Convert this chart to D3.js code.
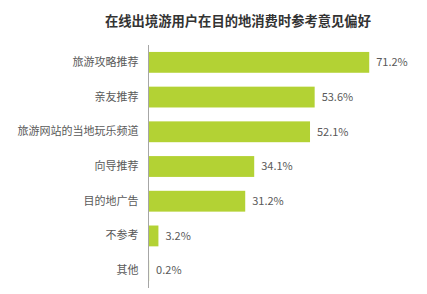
<!DOCTYPE html>
<html>
<head>
<meta charset="utf-8">
<script src="https://cdn.jsdelivr.net/npm/d3@7"></script>
<style>
  body { margin: 0; background: #fff; }
  svg text { font-family: "Noto Sans CJK SC", "Noto Sans", sans-serif; }
</style>
</head>
<body>
<div id="chart"></div>
<script>
// data
const categories = ["旅游攻略推荐", "亲友推荐", "旅游网站的当地玩乐频道", "向导推荐", "目的地广告", "不参考", "其他"];
const values = [71.2, 53.6, 52.1, 34.1, 31.2, 3.2, 0.2];
const title = "在线出境游用户在目的地消费时参考意见偏好";

const width = 427, height = 294;
const x0 = 148.5, yTop = 45, yBottom = 288;

const svg = d3.select("#chart").append("svg")
    .attr("width", width)
    .attr("height", height);

svg.append("text")
    .attr("x", 238)
    .attr("y", 26)
    .attr("text-anchor", "middle")
    .style("font-size", "13.3px")
    .style("font-weight", "bold")
    .attr("fill", "#333")
    .text(title);

const xScale = d3.scaleLinear().domain([0, 80]).range([x0, x0 + 248]);
const yScale = d3.scaleBand().domain(categories).range([yTop, yBottom]).paddingInner(0.4).paddingOuter(0.2);

const data = categories.map((c, i) => ({ cat: c, val: values[i] }));

// bars
svg.selectAll("rect.bar")
    .data(data)
    .enter()
    .append("rect")
    .attr("class", "bar")
    .attr("x", xScale(0))
    .attr("y", d => yScale(d.cat))
    .attr("width", d => xScale(d.val) - xScale(0))
    .attr("height", yScale.bandwidth())
    .attr("fill", "#b3d234");

// value labels
svg.selectAll("text.val")
    .data(data)
    .enter()
    .append("text")
    .attr("class", "val")
    .attr("x", d => xScale(d.val) + 7)
    .attr("y", d => yScale(d.cat) + yScale.bandwidth() / 2)
    .attr("dy", "0.35em")
    .style("font-size", "11px")
    .attr("fill", "#595959")
    .text(d => d.val.toFixed(1) + "%");

// y axis with category labels
const yAxis = d3.axisLeft(yScale).tickSize(0).tickPadding(10);
const gy = svg.append("g")
    .attr("transform", "translate(" + x0 + ",0)")
    .call(yAxis);
gy.select(".domain").attr("stroke", "#a6a6a6").attr("d", "M0," + yTop + "V" + yBottom);
gy.selectAll("text")
    .style("font-size", "11px")
    .style("font-family", "'Noto Sans CJK SC', sans-serif")
    .attr("fill", "#595959");
</script>
</body>
</html>
